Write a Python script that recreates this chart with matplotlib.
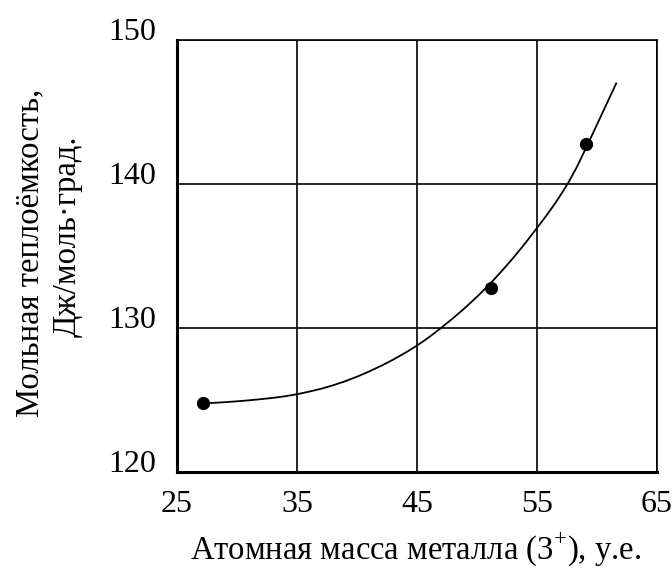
import matplotlib.pyplot as plt

# measured points
mass = [27.2, 51.2, 59.1]
heat = [124.8, 132.8, 142.8]

# smoothed trend line
curve_x = [27.2, 28, 29, 30, 31, 32, 33, 34, 35, 36, 37, 38, 39, 40, 41,
           42, 43, 44, 45, 46, 47, 48, 49, 50, 51, 52, 53, 54, 55, 55.8,
           56.5, 57.0, 57.6, 58.3, 59.0, 59.7, 60.3, 61.0, 61.6]
curve_y = [124.77, 124.80, 124.85, 124.91, 124.98, 125.06, 125.15, 125.26,
           125.40, 125.58, 125.78, 126.02, 126.30, 126.62, 126.98, 127.37,
           127.80, 128.27, 128.78, 129.36, 130.00, 130.68, 131.40, 132.17,
           133.00, 133.90, 134.85, 135.87, 136.95, 137.83, 138.65, 139.28,
           140.08, 141.15, 142.36, 143.60, 144.67, 145.92, 146.99]

xticks = [25, 35, 45, 55, 65]
yticks = [120, 130, 140, 150]

plt.rcParams['font.family'] = ['Liberation Serif', 'DejaVu Serif']
plt.rcParams['mathtext.fontset'] = 'custom'
plt.rcParams['mathtext.rm'] = 'Liberation Serif'

fig = plt.figure(figsize=(6.72, 5.72), dpi=100)
ax = fig.add_axes([0.2634, 0.1748, 0.7143, 0.7552])

ax.plot(curve_x, curve_y, color='black', lw=1.3, zorder=3,
        solid_joinstyle='round')
ax.plot(mass, heat, 'o', color='black', markersize=8.5, zorder=4)

ax.set_xlim(25, 65)
ax.set_ylim(120, 150)
ax.set_xticks(xticks)
ax.set_yticks(yticks)
ax.grid(True, color='black', lw=1.2)
ax.tick_params(length=0, labelsize=23)
ax.tick_params(axis='x', pad=13)
ax.tick_params(axis='y', pad=15)
for lab in ax.get_yticklabels():
    lab.set_verticalalignment('baseline')

for side in ['left', 'bottom']:
    ax.spines[side].set_linewidth(2.2)
for side in ['top', 'right']:
    ax.spines[side].set_linewidth(1.2)

fig.text(0.619, 0.040, 'Атомная масса металла (3$^{+}$), у.е.',
         ha='center', va='center', fontsize=23.5)
fig.text(0.045, 0.558, 'Мольная теплоёмкость,', rotation=90,
         ha='center', va='center', fontsize=23.5)
fig.text(0.100, 0.587, 'Дж/моль·град.', rotation=90,
         ha='center', va='center', fontsize=23.5)

fig.savefig('out.png', dpi=100)
